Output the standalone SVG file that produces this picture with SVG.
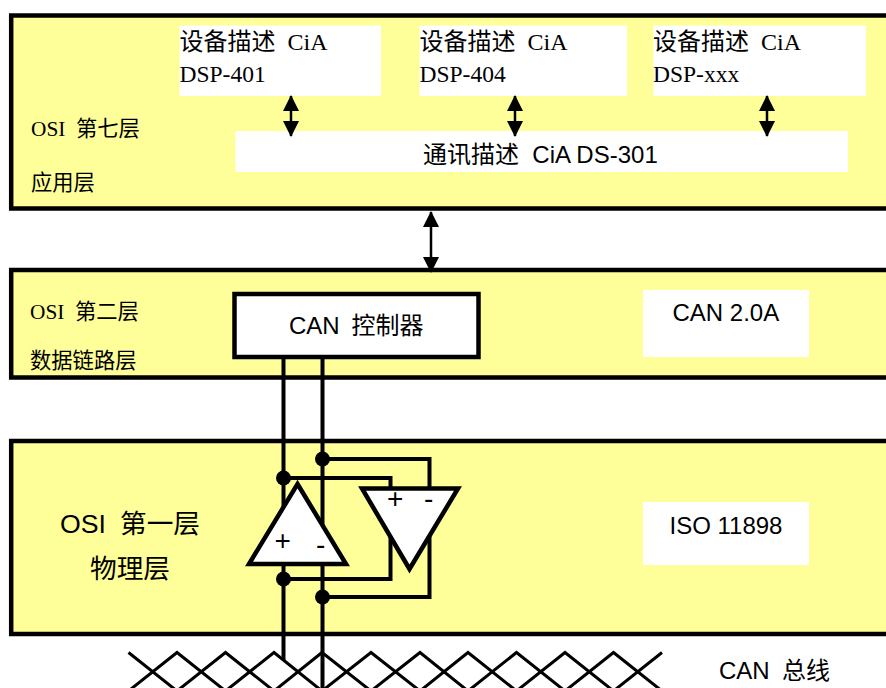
<svg xmlns="http://www.w3.org/2000/svg" width="886" height="688" viewBox="0 0 886 688">
<style>
.layer{fill:#ffff99;stroke:#000;stroke-width:4.5}
.box{fill:#fff}
.w{fill:none;stroke:#000;stroke-width:4}
.thin{fill:none;stroke:#000;stroke-width:2.5}
.tw{fill:none;stroke:#000;stroke-width:3}
.tri{fill:#fff;stroke:#000;stroke-width:4.5}
.dot{fill:#000}
text{fill:#000;font-family:"Liberation Sans","Noto Sans CJK SC",sans-serif;font-size:24px;white-space:pre}
.s{font-family:"Liberation Serif","Noto Sans CJK SC",serif}
.sm{font-size:21.300px}
.lg{font-size:26.700px}
.pm{font-size:28px}
.l{font-size:23.500px}
</style>
<defs>
<marker id="ah" markerUnits="userSpaceOnUse" markerWidth="16" markerHeight="16" refX="15" refY="8" orient="auto-start-reverse" viewBox="0 0 16 16"><path d="M0 0L16 8L0 16Z" fill="#000"/></marker>
</defs>
<g id="layer7"><rect class="layer" x="11.200" y="15.500" width="885" height="193"/>
<text class="s sm" x="31" y="136">OSI  <tspan x="76">第七层</tspan></text>
<text class="sm" x="31" y="190">应用层</text></g>
<g id="layer2"><rect class="layer" x="11.200" y="270" width="885" height="107.500"/>
<text class="s sm" x="30" y="319">OSI  <tspan x="75">第二层</tspan></text>
<text class="sm" x="30" y="368">数据链路层</text></g>
<g id="layer1"><rect class="layer" x="11.200" y="441" width="885" height="193"/>
<text class="lg" x="60" y="533">OSI  <tspan x="120">第一层</tspan></text>
<text class="lg" x="90" y="578">物理层</text></g>
<g id="dsp401"><rect class="box" x="179.500" y="25.500" width="201.500" height="70.500"/>
<text class="s" x="179.500" y="50">设备描述  CiA</text><text class="s l" x="179.500" y="82">DSP-401</text></g>
<g id="dsp404"><rect class="box" x="419.500" y="25.500" width="207.500" height="70.500"/>
<text class="s" x="419.500" y="50">设备描述  CiA</text><text class="s l" x="419.500" y="82">DSP-404</text></g>
<g id="dspxxx"><rect class="box" x="653.500" y="25.500" width="212.500" height="70.500"/>
<text class="s" x="653" y="50">设备描述  CiA</text><text class="s l" x="653" y="82">DSP-xxx</text></g>
<g id="ds301"><rect class="box" x="235.500" y="131" width="612.500" height="41"/>
<text x="423" y="163">通讯描述  CiA DS-301</text></g>
<g id="can20a"><rect class="box" x="643" y="290" width="166" height="67"/>
<text x="672.500" y="321">CAN 2.0A</text></g>
<g id="iso"><rect class="box" x="643" y="502" width="166" height="63"/>
<text x="669.500" y="534">ISO 11898</text></g>
<g id="connectors">
<path class="thin" d="M291 96V136" marker-start="url(#ah)" marker-end="url(#ah)"/>
<path class="thin" d="M515 96V136" marker-start="url(#ah)" marker-end="url(#ah)"/>
<path class="thin" d="M767 96V136" marker-start="url(#ah)" marker-end="url(#ah)"/>
<path class="thin" d="M431 212V272" marker-start="url(#ah)" marker-end="url(#ah)"/>
<path class="tw" d="M128.500 652.500L177 691L225.500 652.500L274 691L322 652.500L371 691L420 652.500L468 691L516.500 652.500L565 691L613.500 652.500L662 691"/>
<path class="tw" d="M128.500 691L177 652.500L225.500 691L274 652.500L322 691L371 652.500L420 691L468 652.500L516.500 691L565 652.500L613.500 691L662 652.500"/>
<path class="w" d="M283.500 358V660M322.500 358V688"/>
<path class="w" d="M322.500 459H429.500V490M283.500 478H390.500V490M283.500 579H390.500V530M322.500 597H429.500V530"/>
</g>
<g id="dots"><circle class="dot" cx="283.500" cy="478" r="7.500"/><circle class="dot" cx="322.500" cy="459" r="7.500"/><circle class="dot" cx="283.500" cy="579" r="7.500"/><circle class="dot" cx="322.500" cy="597" r="7.500"/></g>
<g id="controller"><rect x="234.500" y="294" width="244" height="63" fill="#fff" stroke="#000" stroke-width="4.500"/>
<text x="289" y="334">CAN  <tspan x="351.500">控制器</tspan></text></g>
<g id="amp-up"><path class="tri" d="M297.500 484L346 564H249Z"/>
<text class="pm" x="274.500" y="550">+</text><text class="pm" x="316" y="554">-</text></g>
<g id="amp-down"><path class="tri" d="M362 488.500H458L409.500 569Z"/>
<text class="pm" x="387" y="508">+</text><text class="pm" x="424" y="508">-</text></g>
<g id="bus-label"><text x="719" y="679">CAN  <tspan x="782">总线</tspan></text></g>
</svg>
